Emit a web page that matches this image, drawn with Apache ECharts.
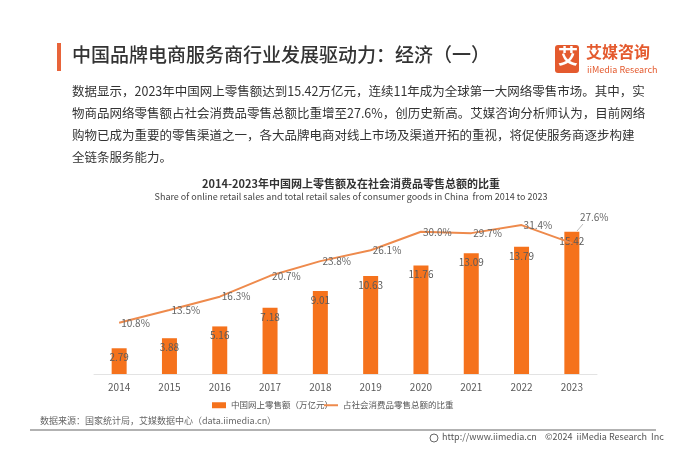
<!DOCTYPE html>
<html><head><meta charset="utf-8">
<script src="https://cdn.jsdelivr.net/npm/echarts@6/dist/echarts.min.js"></script>
<style>html,body{margin:0;padding:0;background:#fff}#c{width:700px;height:470px}</style>
</head><body><div id="c"></div>
<script>
const years = ['2014','2015','2016','2017','2018','2019','2020','2021','2022','2023'];
const salesValues = [2.79, 3.88, 5.16, 7.18, 9.01, 10.63, 11.76, 13.09, 13.79, 15.42];
const shareValues = [10.8, 13.5, 16.3, 20.7, 23.8, 26.1, 30.0, 29.7, 31.4, 27.6];
const seriesNames = ['中国网上零售额（万亿元）', '占社会消费品零售总额的比重'];
const bodyLines = [
  '数据显示，2023年中国网上零售额达到15.42万亿元，连续11年成为全球第一大网络零售市场。其中，实',
  '物商品网络零售额占社会消费品零售总额比重增至27.6%，创历史新高。艾媒咨询分析师认为，目前网络',
  '购物已成为重要的零售渠道之一，各大品牌电商对线上市场及渠道开拓的重视，将促使服务商逐步构建',
  '全链条服务能力。'
];
const font = '"Noto Sans CJK SC", "Noto Sans", sans-serif';
const chart = echarts.init(document.getElementById('c'));
const graphics = [
  {type:'rect', shape:{x:57,y:43,width:4,height:28}, style:{fill:'#E8643A'}},
  {type:'text', left:72, top:45, style:{text:'中国品牌电商服务商行业发展驱动力：经济（一）', font:'500 19px '+font, fill:'#333'}},
  {type:'rect', shape:{x:555,y:45,width:24,height:28, r:3}, style:{fill:'#E45A2E'}},
  {type:'text', left:558, top:46, style:{text:'艾', font:'bold 20px '+font, fill:'#fff'}},
  {type:'text', left:586, top:44, style:{text:'艾媒咨询', font:'bold 16px '+font, fill:'#E45A2E'}},
  {type:'text', left:587, top:65, style:{text:'iiMedia Research', font:'9px '+font, fill:'#E45A2E'}},
  {type:'line', shape:{x1:30,y1:430,x2:656,y2:430}, style:{stroke:'#999', lineWidth:1.5}},
  {type:'text', left:40, top:416, style:{text:'数据来源：国家统计局，艾媒数据中心（data.iimedia.cn）', font:'9px '+font, fill:'#666'}},
  {type:'circle', shape:{cx:434,cy:438,r:4}, style:{fill:'none', stroke:'#666', lineWidth:1}},
  {type:'text', left:442, top:432, style:{text:'http://www.iimedia.cn', font:'9px '+font, fill:'#555'}},
  {type:'text', left:545, top:432, style:{text:'©2024  iiMedia Research  Inc', font:'9px '+font, fill:'#555'}},
  {type:'line', shape:{x1:577,y1:231,x2:583,y2:224}, style:{stroke:'#bbb', lineWidth:1}}
];
bodyLines.forEach((t,i)=>{
  graphics.push({type:'text', left:72, top:85+i*22, style:{text:t, font:'12.5px '+font, fill:'#333'}});
});
chart.setOption({
  animation:false,
  textStyle:{fontFamily:font},
  title:{
    text:'2014-2023年中国网上零售额及在社会消费品零售总额的比重',
    subtext:'Share of online retail sales and total retail sales of consumer goods in China  from 2014 to 2023',
    left:346, textAlign:'center', top:173, itemGap:3,
    textStyle:{fontSize:11, fontWeight:'bold', color:'#333', fontFamily:font},
    subtextStyle:{fontSize:9, color:'#444', fontFamily:font}
  },
  legend:[
    {top:401, left:212, itemWidth:14, itemHeight:6, padding:0, textStyle:{fontSize:8.5, color:'#555'},
      data:[{name:seriesNames[0], icon:'rect'}]},
    {top:401, left:324, itemWidth:14, itemHeight:2, padding:0, textStyle:{fontSize:8.5, color:'#555'},
      data:[{name:seriesNames[1], icon:'rect'}]}
  ],
  grid:{left:94, right:103, top:208, bottom:96},
  xAxis:{type:'category', data:years, axisTick:{show:false},
    axisLine:{lineStyle:{color:'#e3e3e3'}},
    axisLabel:{color:'#595959', fontSize:10, margin:8}},
  yAxis:[
    {type:'value', min:0, max:18, show:false, splitLine:{show:false}},
    {type:'value', min:0, max:35, show:false, splitLine:{show:false}}
  ],
  graphic:graphics,
  series:[
    {name:seriesNames[0], type:'bar', data:salesValues, barWidth:15,
      itemStyle:{color:'#F5721C'},
      label:{show:true, position:'insideTop', distance:4, color:'#5a5a5a', fontSize:10}},
    {name:seriesNames[1], type:'line', yAxisIndex:1, showSymbol:true, symbol:'circle', symbolSize:0.1,
      data:shareValues.map((v,i)=> i===shareValues.length-1 ? {value:v, label:{offset:[6,-26]}} : v),
      lineStyle:{color:'#EE8A4C', width:2}, itemStyle:{color:'#EE8A4C'},
      label:{show:true, position:'right', distance:2, color:'#666', fontSize:10, formatter:p=>p.value.toFixed(1)+'%'}
    }
  ]
});
</script></body></html>
